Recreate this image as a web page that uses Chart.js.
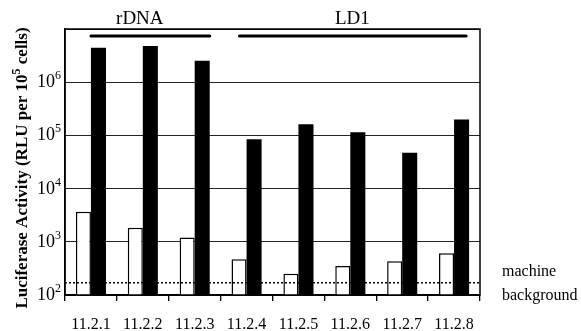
<!DOCTYPE html>
<html>
<head>
<meta charset="utf-8">
<script src="https://cdn.jsdelivr.net/npm/chart.js@4/dist/chart.umd.min.js"></script>
<style>
  html, body { margin: 0; padding: 0; background: #fff; }
  #wrap { width: 581px; height: 331px; position: relative; }
</style>
</head>
<body>
<div id="wrap"><canvas id="chart"></canvas></div>
<script>
const clones = ['11.2.1', '11.2.2', '11.2.3', '11.2.4', '11.2.5', '11.2.6', '11.2.7', '11.2.8'];
const openBars = [3680, 1840, 1210, 470, 250, 350, 430, 610];
const filledBars = [4450000, 4800000, 2530000, 84500, 162000, 114000, 47300, 200000];
const decades = [100, 1000, 10000, 100000, 1000000, 10000000];
const machineBackground = 170;
const groupNames = ['rDNA', 'LD1'];
const groupFirst = [0, 3];
const groupLast = [2, 7];

const serif = '"Liberation Serif", "Times New Roman", serif';

const overlay = {
    id: 'overlay',
    afterDraw(chart) {
        const { ctx, chartArea: a, scales: { x, y } } = chart;
        ctx.save();

        // frame
        ctx.strokeStyle = '#000';
        ctx.lineWidth = 1.5;
        ctx.strokeRect(a.left, a.top, a.right - a.left, a.bottom - a.top);

        // machine background dotted line
        const yb = y.getPixelForValue(machineBackground);
        ctx.setLineDash([2, 2]);
        ctx.lineWidth = 1.3;
        ctx.beginPath();
        ctx.moveTo(a.left, yb);
        ctx.lineTo(a.right, yb);
        ctx.stroke();
        ctx.setLineDash([]);

        ctx.fillStyle = '#000';
        ctx.font = '16px ' + serif;
        ctx.textAlign = 'left';
        ctx.textBaseline = 'alphabetic';
        ctx.fillText('machine', a.right + 22, yb - 7);
        ctx.fillText('background', a.right + 22, yb + 17);

        // y tick labels with superscripts
        decades.slice(0, -1).forEach(v => {
            const py = y.getPixelForValue(v);
            ctx.font = '18px ' + serif;
            ctx.textAlign = 'right';
            ctx.fillText('10', a.left - 10, py + 5);
            ctx.font = '12px ' + serif;
            ctx.textAlign = 'left';
            ctx.fillText(String(Math.round(Math.log10(v))), a.left - 10, py - 3);
        });

        // group bars and labels
        const step = x.getPixelForValue(1) - x.getPixelForValue(0);
        const half = step * 0.29;
        groupNames.forEach((name, i) => {
            const x0 = i === 0 ? x.getPixelForValue(groupFirst[i]) : x.getPixelForValue(groupFirst[i]) - half + 8;
            const x1 = x.getPixelForValue(groupLast[i]) + half - (i === 0 ? 0 : 3);
            ctx.lineWidth = 3;
            ctx.lineCap = 'round';
            ctx.beginPath();
            ctx.moveTo(x0, a.top + 7);
            ctx.lineTo(x1, a.top + 7);
            ctx.stroke();
        });
        ctx.font = '19px ' + serif;
        ctx.textAlign = 'center';
        ctx.fillText(groupNames[0], (x.getPixelForValue(groupFirst[0]) + x.getPixelForValue(groupLast[0])) / 2 - 3, a.top - 5);
        ctx.fillText(groupNames[1], (x.getPixelForValue(groupFirst[1]) + x.getPixelForValue(groupLast[1])) / 2 + 2, a.top - 5);

        // y axis title with superscript
        const big = 'bold 17px ' + serif;
        const small = 'bold 12px ' + serif;
        const parts = [['Luciferase Activity (RLU per 10', big, 0], ['5', small, -7], [' cells)', big, 0]];
        let total = 0;
        parts.forEach(p => { ctx.font = p[1]; total += ctx.measureText(p[0]).width; });
        ctx.translate(27, (a.top + a.bottom) / 2 + 6);
        ctx.rotate(-Math.PI / 2);
        ctx.textAlign = 'left';
        let cx = -total / 2;
        parts.forEach(p => {
            ctx.font = p[1];
            ctx.fillText(p[0], cx, p[2]);
            cx += ctx.measureText(p[0]).width;
        });
        ctx.restore();
    }
};

new Chart(document.getElementById('chart'), {
    type: 'bar',
    data: {
        labels: clones,
        datasets: [
            { data: openBars, backgroundColor: '#fff', borderColor: '#000', borderWidth: 1.5 },
            { data: filledBars, backgroundColor: '#000', borderColor: '#000', borderWidth: 0 },
        ],
    },
    options: {
        responsive: true,
        maintainAspectRatio: false,
        animation: false,
        datasets: { bar: { categoryPercentage: 0.58, barPercentage: 1 } },
        layout: { padding: { left: 0, right: 101, top: 29, bottom: 0 } },
        plugins: { legend: { display: false }, tooltip: { enabled: false } },
        scales: {
            x: {
                grid: { drawOnChartArea: false, tickLength: 6, color: '#000', lineWidth: 1.3 },
                border: { display: true, color: '#000', width: 1.5 },
                ticks: { color: '#000', font: { family: serif, size: 16 }, padding: 14, maxRotation: 0 },
                afterFit(s) { s.height = 36; },
            },
            y: {
                type: 'logarithmic',
                min: 100,
                max: 10000000,
                afterBuildTicks(s) { s.ticks = decades.map(v => ({ value: v })); },
                grid: { color: '#222', lineWidth: 1, drawTicks: false },
                border: { display: true, color: '#000', width: 1.5 },
                ticks: { display: false },
                afterFit(s) { s.width = 65; },
            },
        },
    },
    plugins: [overlay],
});
</script>
</body>
</html>
